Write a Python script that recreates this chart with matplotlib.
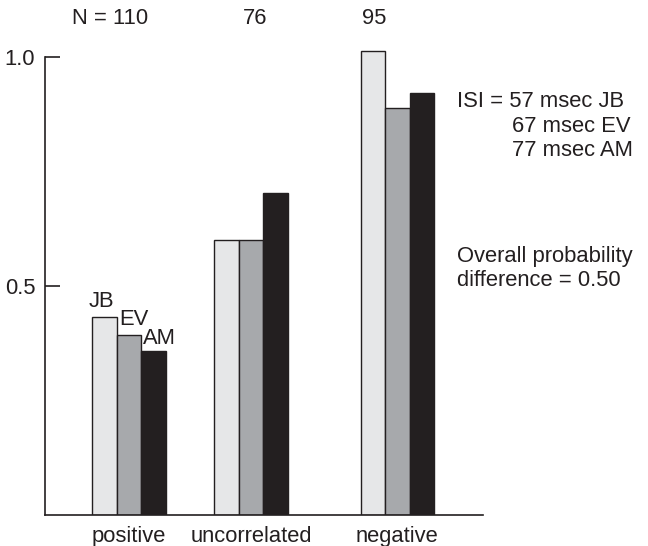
import matplotlib
matplotlib.use("Agg")
import matplotlib.pyplot as plt
import numpy as np

plt.rcParams['font.family'] = ['Liberation Sans', 'DejaVu Sans']

categories = ["positive", "uncorrelated", "negative"]
n_labels = ["N = 110", "76", "95"]
series_names = ["JB", "EV", "AM"]
jb = [0.432, 0.600, 1.013]
ev = [0.393, 0.600, 0.888]
am = [0.358, 0.702, 0.921]
isi_lines = ["ISI = 57 msec JB", "67 msec EV", "77 msec AM"]
overall_lines = ["Overall probability", "difference = 0.50"]

colors = ["#e6e7e8", "#a7a9ac", "#231f20"]
edge = "#231f20"

fig = plt.figure(figsize=(6.48, 5.46), dpi=100)
ax = fig.add_axes([45/648, 31/546, 438/648, 1.05*458/546])

group_pos = np.array([0.0, 1.0, 2.2])
w = 0.2
fs = 15.8

for i, (vals, c) in enumerate(zip([jb, ev, am], colors)):
    ax.bar(group_pos + (i - 1) * w, vals, width=w, color=c, edgecolor=edge,
           linewidth=1.0, zorder=2)

ax.set_xlim(-0.689, 2.902)
ax.set_ylim(0, 1.05)

for s in ["top", "right"]:
    ax.spines[s].set_visible(False)
ax.spines["left"].set_bounds(0, 1.0)
ax.spines["left"].set_color(edge)
ax.spines["bottom"].set_color(edge)
ax.spines["left"].set_linewidth(1.2)
ax.spines["bottom"].set_linewidth(1.2)

ax.set_yticks([0.5, 1.0])
ax.set_yticklabels(["0.5", "1.0"], fontsize=fs, color="#231f20")
ax.tick_params(axis="y", direction="in", length=11, width=1.2, pad=7, color=edge)
ax.set_xticks(group_pos)
ax.set_xticklabels(categories, fontsize=fs, color="#231f20")
ax.tick_params(axis="x", length=0, pad=8)

# N labels
n_x = [-0.156, 1.033, 2.01]
for x, t in zip(n_x, n_labels):
    ax.text(x, 1.085, t, ha="center", va="center", fontsize=fs, color="#231f20", clip_on=False)

# series labels above positive bars
offs = [(-3, 7), (2, 7), (1, 5)]
for i, (name, vals) in enumerate(zip(series_names, [jb, ev, am])):
    left = group_pos[0] + (i - 1) * w - w / 2
    ax.annotate(name, (left, vals[0]), xytext=offs[i], textcoords="offset points",
                ha="left", va="baseline", fontsize=fs, color="#231f20")

# right-hand texts
ax.text(2.689, 0.902, isi_lines[0], ha="left", va="center", fontsize=fs, color="#231f20", clip_on=False)
ax.text(3.139, 0.848, isi_lines[1], ha="left", va="center", fontsize=fs, color="#231f20", clip_on=False)
ax.text(3.139, 0.795, isi_lines[2], ha="left", va="center", fontsize=fs, color="#231f20", clip_on=False)
ax.text(2.689, 0.564, overall_lines[0], ha="left", va="center", fontsize=fs, color="#231f20", clip_on=False)
ax.text(2.689, 0.513, overall_lines[1], ha="left", va="center", fontsize=fs, color="#231f20", clip_on=False)

fig.savefig("out.png", dpi=100)
